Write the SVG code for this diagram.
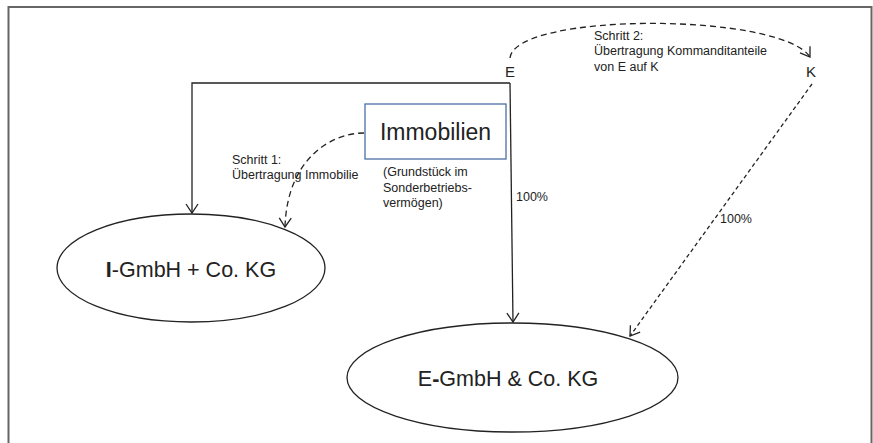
<svg xmlns="http://www.w3.org/2000/svg" width="873" height="443" viewBox="0 0 873 443">
<style>
.t{font-family:"Liberation Sans",Arial,sans-serif;fill:#222}
.s{font-size:12.5px}
.big{font-size:21.5px}
.ln{fill:none;stroke:#222;stroke-width:1.3}
.d1{stroke-dasharray:6 4}
.d2{stroke-dasharray:4 3}
.node{fill:#fff;stroke:#222;stroke-width:1.3}
</style>
<defs>
<marker id="ah" markerUnits="userSpaceOnUse" markerWidth="14" markerHeight="14" viewBox="-11 -7 12 14" refX="0" refY="0" orient="auto">
<path d="M-9,-6 L0,0 L-9,6" fill="none" stroke="#222" stroke-width="1.3"/>
</marker>
</defs>
<rect width="873" height="443" fill="#fff"/>
<rect x="8.5" y="7" width="863" height="450" fill="none" stroke="#666" stroke-width="2"/>
<g id="I-GmbH">
<ellipse class="node" cx="191" cy="268" rx="134" ry="54"/>
<text class="t big" x="191" y="277" text-anchor="middle"><tspan font-weight="bold">I</tspan>-GmbH + Co. KG</text>
</g>
<g id="E-GmbH">
<ellipse class="node" cx="512.5" cy="377.5" rx="165.5" ry="54.5"/>
<text class="t big" x="508" y="386" text-anchor="middle">E<tspan font-weight="bold">-</tspan>GmbH &amp; Co. KG</text>
</g>
<g id="Immobilien">
<rect x="365" y="104" width="141" height="55" fill="#fff" stroke="#4a6fa5" stroke-width="1.3"/>
<text class="t" x="435.5" y="140" font-size="23" text-anchor="middle">Immobilien</text>
<text class="t s" x="383"><tspan x="383" y="176">(Grundstück im</tspan><tspan x="383" y="192">Sonderbetriebs-</tspan><tspan x="383" y="207">vermögen)</tspan></text>
</g>
<g id="E"><text class="t" x="510" y="77" font-size="15" text-anchor="middle">E</text></g>
<g id="K"><text class="t" x="811" y="77" font-size="15" text-anchor="middle">K</text></g>
<g id="connectors">
<path class="ln" d="M510,83 L513,322" marker-end="url(#ah)"/>
<path class="ln" d="M510,83 L192,83 L192,213" marker-end="url(#ah)"/>
<path class="ln d1" d="M364,133 C330,133 287,160 285,227" marker-end="url(#ah)"/>
<path class="ln d1" d="M510,58 C515,12 780,12 810,57" marker-end="url(#ah)"/>
<path class="ln d2" d="M812,84 L630,336" marker-end="url(#ah)"/>
<text class="t s" x="232"><tspan x="232" y="164">Schritt 1:</tspan><tspan x="232" y="179">Übertragung Immobilie</tspan></text>
<text class="t s" x="594"><tspan x="594" y="40">Schritt 2:</tspan><tspan x="594" y="55">Übertragung Kommanditanteile</tspan><tspan x="594" y="71">von E auf K</tspan></text>
<text class="t s" x="516" y="201">100%</text>
<text class="t s" x="720" y="223">100%</text>
</g>
</svg>
